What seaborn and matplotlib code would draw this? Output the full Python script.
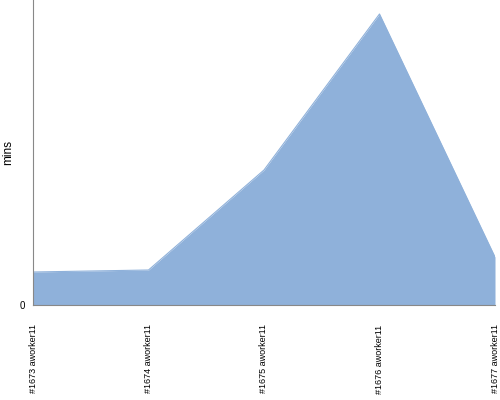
import numpy as np
import pandas as pd
import matplotlib
matplotlib.use("Agg")
import matplotlib.pyplot as plt
import seaborn as sns

# build labels and durations (mins)
builds = ['#1673 aworker11', '#1674 aworker11', '#1675 aworker11',
          '#1676 aworker11', '#1677 aworker11']
mins = [3.3, 3.5, 13.5, 29.1, 4.8]

df = pd.DataFrame({'build': builds, 'mins': mins})
df['pos'] = np.arange(len(df))

sns.set_style('white')
plt.rcParams['font.family'] = ['Liberation Sans', 'DejaVu Sans']

fig = plt.figure(figsize=(5, 4), dpi=100)
ax = fig.add_axes([0.066, 0.2375, 0.924, 0.7625])

sns.lineplot(data=df, x='pos', y='mins', ax=ax, color='#8fb1da', linewidth=0.8)
ax.fill_between(df['pos'], df['mins'], color='#8fb1da', linewidth=0)

ax.set_xlim(0, len(df) - 1)
ax.set_ylim(0, 30.5)
ax.set_xticks(df['pos'])
ax.set_xticklabels(df['build'], rotation=90, fontsize=6.5, color='black')
ax.set_yticks([0])
ax.set_yticklabels(['0'], fontsize=7, color='black')
ax.set_xlabel('')
ax.set_ylabel('mins', fontsize=8.5, color='black')

for s in ['top', 'right']:
    ax.spines[s].set_visible(False)
ax.spines['left'].set_color('#888888')
ax.spines['bottom'].set_color('#888888')
ax.spines['left'].set_linewidth(0.8)
ax.spines['bottom'].set_linewidth(0.8)
ax.tick_params(axis='y', length=4, color='#888888', pad=2)
ax.tick_params(axis='x', length=0, pad=14)

fig.savefig('out.png', dpi=100)
